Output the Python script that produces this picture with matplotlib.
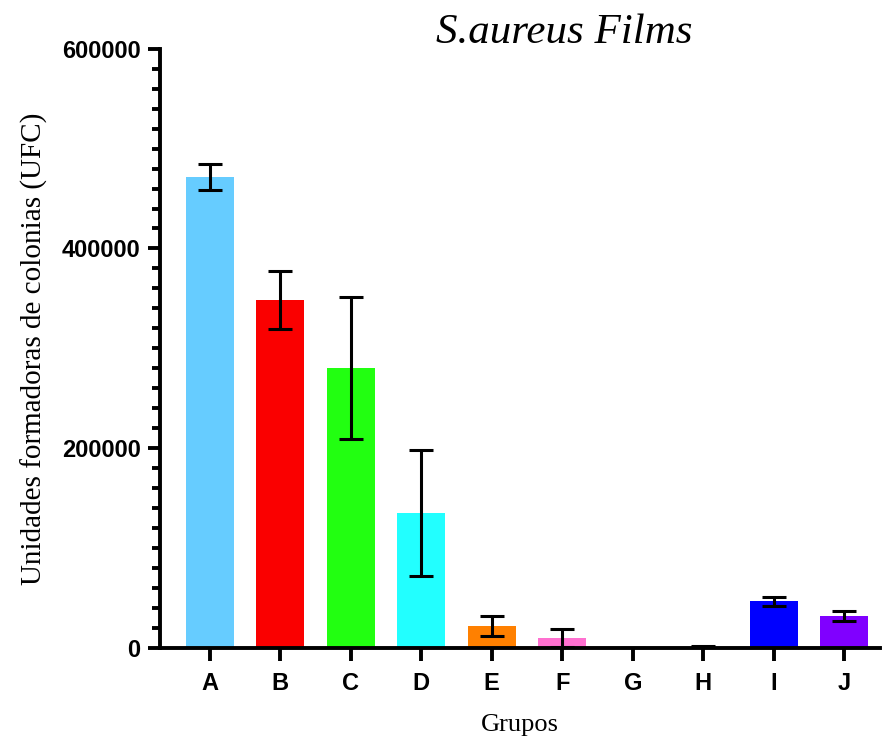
import matplotlib
matplotlib.use("Agg")
import matplotlib.pyplot as plt
from matplotlib.ticker import MultipleLocator

groups = ["A", "B", "C", "D", "E", "F", "G", "H", "I", "J"]
ufc = [472000, 348000, 280000, 135000, 22000, 10000, 0, 0, 47000, 32000]
sd = [13000, 29000, 71000, 63000, 10000, 9000, 0, 2000, 4500, 5000]
colors = ["#66CCFF", "#FA0000", "#22FF11", "#22FFFF", "#FF8000",
          "#FF70D0", "#FFFFFF", "#FFFFFF", "#0000FF", "#8000FF"]

fig = plt.figure(figsize=(8.85, 7.38), dpi=100)
ax = fig.add_axes([0.181, 0.122, 0.813, 0.812])

x = list(range(len(groups)))
ax.bar(x, ufc, width=0.68, color=colors, zorder=2)
ax.errorbar(x, ufc, yerr=sd, fmt="none", ecolor="black", elinewidth=2.2,
            capsize=8.5, capthick=2.2, zorder=3)

ax.set_xlim(-0.7, 9.5)
ax.set_ylim(0, 600000)
ax.yaxis.set_major_locator(MultipleLocator(200000))
ax.yaxis.set_minor_locator(MultipleLocator(20000))
ax.set_xticks(x)
ax.set_xticklabels(groups)

for s in ["top", "right"]:
    ax.spines[s].set_visible(False)
for s in ["left", "bottom"]:
    ax.spines[s].set_linewidth(2.8)

ax.tick_params(axis="both", which="major", direction="out", length=9, width=2.8,
               labelsize=17, pad=5)
ax.tick_params(axis="x", which="major", pad=8)
ax.tick_params(axis="y", which="minor", direction="out", length=6, width=2.8)
for lab in ax.get_xticklabels() + ax.get_yticklabels():
    lab.set_fontweight("bold")
    lab.set_family("Liberation Sans")

ax.set_ylabel("Unidades formadoras de colonias (UFC)", family="Liberation Serif",
              fontsize=21, labelpad=10)
ax.set_xlabel("Grupos", family="Liberation Serif", fontsize=19, labelpad=14)
fig.text(0.638, 0.955, "S.aureus Films", family="Liberation Serif", style="italic",
         fontsize=31, ha="center", va="center")

fig.savefig("out.png", dpi=100, facecolor="white")
